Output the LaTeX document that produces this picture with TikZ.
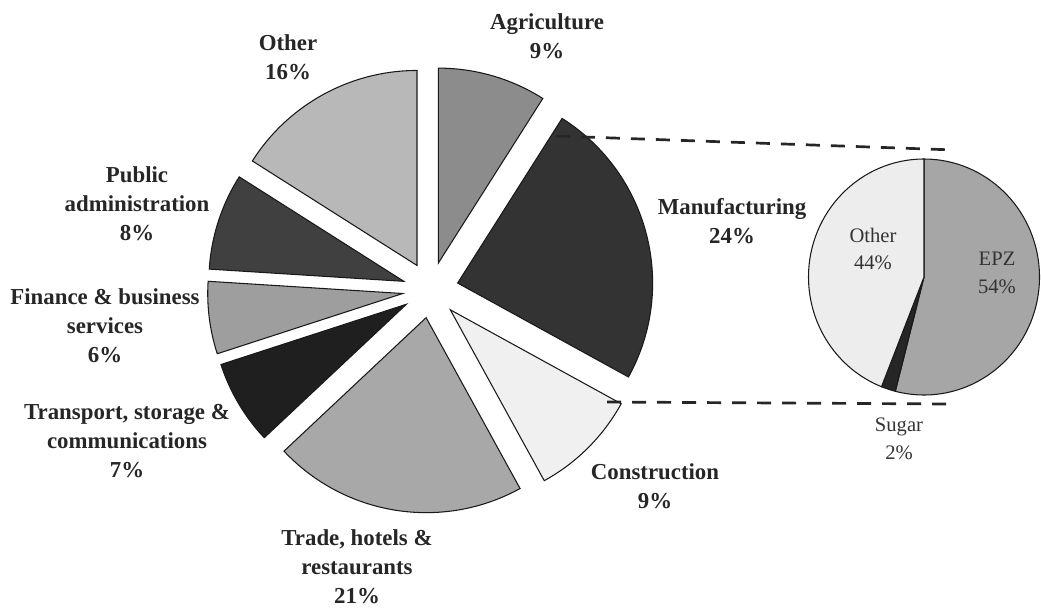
\documentclass[tikz,border=0pt]{standalone}
\usepackage{fontspec}
\setmainfont{Liberation Serif}
\usetikzlibrary{calc}
\definecolor{agri}{gray}{0.55}
\definecolor{manu}{gray}{0.20}
\definecolor{cons}{gray}{0.94}
\definecolor{trade}{gray}{0.66}
\definecolor{trans}{gray}{0.12}
\definecolor{fin}{gray}{0.62}
\definecolor{pub}{gray}{0.25}
\definecolor{oth}{gray}{0.72}
\definecolor{zoth}{gray}{0.93}
\definecolor{epz}{gray}{0.65}
\definecolor{sugar}{gray}{0.15}
\def\pieslice[#1](#2:#3){\draw[#1,shift={({(#2+#3)/2}:28)}] (430.5,319) -- ++(#2:195) arc (#2:#3:195) -- cycle;}
\def\zoomslice[#1](#2:#3){\draw[#1] (zc) -- ++(#2:115.5 and 118) arc (#2:#3:115.5 and 118) -- cycle;}
\tikzset{
	slice/.style={draw=black!90,line width=0.9pt},
	lbl/.style={align=center,text=black!85,font=\fontsize{19.5}{24.7}\selectfont\bfseries},
	zlbl/.style={align=center,text=black!80,font=\fontsize{17.6}{23.8}\selectfont},
	zoomline/.style={draw=black!85,line width=2.3pt,dash pattern=on 4.2mm off 3.3mm}
}

\begin{document}
\begin{tikzpicture}[x=0.3mm,y=0.3mm]
			%%%%% START %%%%%
			\useasboundingbox (0,0) rectangle (1041,609);
			
			\pieslice[slice,fill=agri](57.6:90)
			\pieslice[slice,fill=manu](-28.8:57.6)
			\pieslice[slice,fill=cons](-61.2:-28.8)
			\pieslice[slice,fill=trade](-136.8:-61.2)
			\pieslice[slice,fill=trans](-162:-136.8)
			\pieslice[slice,fill=fin](-183.6:-162)
			\pieslice[slice,fill=pub](-212.4:-183.6)
			\pieslice[slice,fill=oth](-270:-212.4)
			
			\coordinate (zc) at (924,332);
			\zoomslice[slice,fill=epz](-104.4:90)
			\zoomslice[slice,fill=sugar](-111.6:-104.4)
			\zoomslice[slice,fill=zoth](90:248.4)
			
			\coordinate (manutop) at (556,473);
			\coordinate (zoomtop) at (955,459);
			\coordinate (manubot) at (607,207);
			\coordinate (zoombot) at (950,205);
			\draw[zoomline] (manutop) -- (zoomtop);
			\draw[zoomline] (manubot) -- (zoombot);
			
			\node[lbl] (agrilbl) at (547,573) {Agriculture\\9\%};
			\node[lbl] (manulbl) at (732,388) {Manufacturing\\24\%};
			\node[lbl] (conslbl) at (655,123) {Construction\\9\%};
			\node[lbl] (tradelbl) at (357,42) {Trade, hotels \&\\restaurants\\21\%};
			\node[lbl] (translbl) at (127,168) {Transport, storage \&\\communications\\7\%};
			\node[lbl] (finlbl) at (105,283) {Finance \& business\\services\\6\%};
			\node[lbl] (publbl) at (137,405) {Public\\administration\\8\%};
			\node[lbl] (othlbl) at (288,552) {Other\\16\%};
			
			\node[zlbl] (zothlbl) at (873,360) {Other\\44\%};
			\node[zlbl] (epzlbl) at (997,336) {EPZ\\54\%};
			\node[zlbl] (sugarlbl) at (899,170) {Sugar\\2\%};
			%%%%% END %%%%%
		\end{tikzpicture}
\end{document}
